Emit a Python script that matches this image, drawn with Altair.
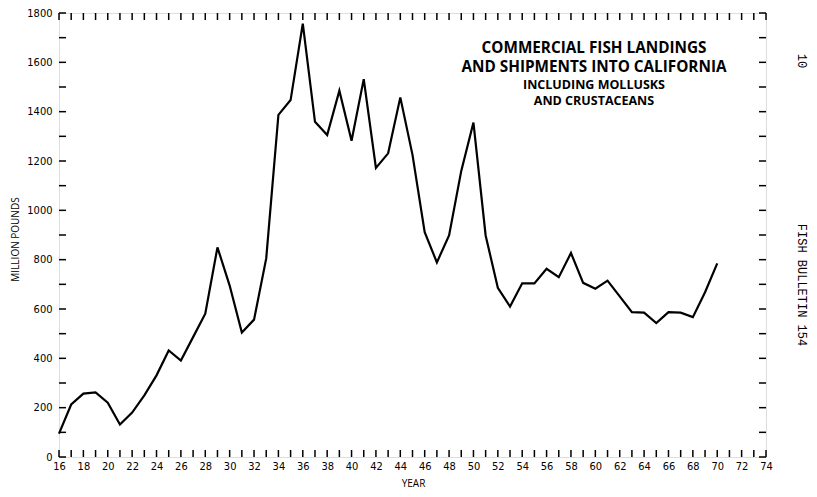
import altair as alt
import pandas as pd

years = list(range(16, 71))
landings = [95, 213, 257, 262, 220, 132, 180, 250, 331, 432,
            391, 486, 581, 850, 695, 505, 557, 805, 1387, 1447,
            1757, 1359, 1305, 1485, 1282, 1532, 1172, 1231, 1458, 1225,
            911, 789, 898, 1160, 1356, 898, 686, 610, 704, 704,
            763, 729, 827, 706, 682, 715, 651, 587, 585, 543,
            587, 585, 567, 668, 785]

x_label_values = list(range(16, 75, 2))
y_label_values = list(range(0, 1801, 200))
x_tick_values = list(range(16, 75))
y_tick_values = list(range(0, 1801, 100))

title_lines = ["COMMERCIAL FISH LANDINGS", "AND SHIPMENTS INTO CALIFORNIA"]
sub_lines = ["INCLUDING MOLLUSKS", "AND CRUSTACEANS"]

W, H = 707, 444
TICK = 7
NUM_FONT = "DejaVu Sans Condensed, Liberation Sans Narrow, sans-serif"

df = pd.DataFrame({"year": years, "value": landings})
xt = pd.DataFrame({"year": x_tick_values})
yt = pd.DataFrame({"value": y_tick_values})

xscale = alt.Scale(domain=[16, 74], nice=False, zero=False)
yscale = alt.Scale(domain=[0, 1800], nice=False)

x_axis = alt.Axis(values=x_label_values, format="d", title="YEAR",
                  tickSize=0, domain=False, grid=False,
                  labelPadding=3, labelFont=NUM_FONT, labelFontSize=11,
                  labelColor="black", labelOverlap=False,
                  titleFont="Open Sans",
                  titleFontSize=10, titleFontWeight="normal",
                  titleColor="black", titleX=354, titleY=26,
                  titleBaseline="middle", labelFlush=False)
y_axis = alt.Axis(values=y_label_values, format="d",
                  title="MILLION POUNDS", tickSize=0, domain=False,
                  grid=False, labelPadding=7, labelFont=NUM_FONT,
                  labelFontSize=11, labelColor="black",
                  labelOverlap=False,
                  titleFont="Open Sans", titleFontSize=10,
                  titleFontWeight="normal", titleColor="black",
                  titleX=-44, titleY=226, titleAngle=-90,
                  titleBaseline="middle", labelFlush=False)

X = alt.X("year:Q", scale=xscale, axis=x_axis, title="YEAR")
Y = alt.Y("value:Q", scale=yscale, axis=y_axis, title="MILLION POUNDS")

line = alt.Chart(df).mark_line(color="black", strokeWidth=2.2).encode(x=X, y=Y)

bottom_ticks = alt.Chart(xt).mark_rule(color="black", strokeWidth=1.5).encode(
    x=X, y=alt.value(H), y2=alt.value(H - TICK))
top_ticks = alt.Chart(xt).mark_rule(color="black", strokeWidth=1.5).encode(
    x=X, y=alt.value(0), y2=alt.value(TICK))
left_ticks = alt.Chart(yt).mark_rule(color="black", strokeWidth=1.5).encode(
    y=Y, x=alt.value(0), x2=alt.value(TICK))
right_ticks = alt.Chart(yt).mark_rule(color="black", strokeWidth=1.5).encode(
    y=Y, x=alt.value(W), x2=alt.value(W - TICK))

def txt(s, x, y, size, weight="bold", font="Open Sans", angle=0):
    return alt.Chart(pd.DataFrame({"s": [s]})).mark_text(
        font=font, fontSize=size, fontWeight=weight, color="black",
        align="center", baseline="middle", angle=angle).encode(
        x=alt.value(x), y=alt.value(y), text="s:N")

annots = [
    txt(title_lines[0], 535, 35, 15.3),
    txt(title_lines[1], 535, 54, 15.3),
    txt(sub_lines[0], 535, 72, 12.5),
    txt(sub_lines[1], 535, 88, 12.5),
    txt("10", 743, 48, 12, weight="normal",
        font="Liberation Mono, Courier New, monospace", angle=90),
    txt("FISH BULLETIN 154", 743, 272, 12, weight="normal",
        font="Liberation Mono, Courier New, monospace", angle=90),
]

chart = alt.layer(line, bottom_ticks, top_ticks, left_ticks, right_ticks,
                  *annots).properties(
    width=W, height=H,
    autosize=alt.AutoSizeParams(type="none"),
    padding={"left": 51, "top": 5, "right": 43, "bottom": 32},
).configure_view(stroke="black", strokeWidth=2).configure_axis(
    labelOverlap=False).configure(background="white")

chart.save("out.html", embed_options={"renderer": "svg", "actions": False})
